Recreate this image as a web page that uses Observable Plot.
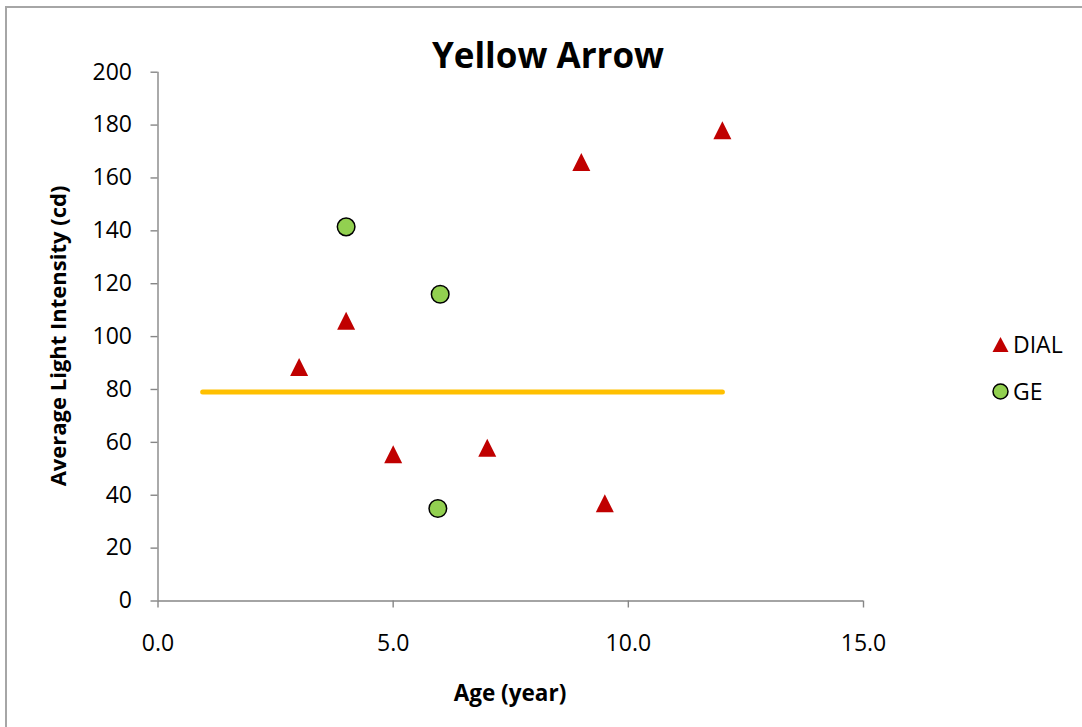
<!DOCTYPE html>
<html>
<head>
<meta charset="utf-8">
<script src="https://cdn.jsdelivr.net/npm/d3@7"></script>
<script src="https://cdn.jsdelivr.net/npm/@observablehq/plot@0.6"></script>
<style>
  html, body { margin: 0; padding: 0; background: #fff; overflow: hidden; }
  #wrap { position: relative; width: 1082px; height: 727px; font-family: "Open Sans", sans-serif; }
  #border { position: absolute; left: 5px; top: 6px; width: 1100px; height: 760px; border: 2px solid #a6a6a6; box-sizing: border-box; }
  #chart { position: absolute; left: 0; top: 0; }
  .title { position: absolute; left: 0; width: 1096px; top: 37px; text-align: center; font-weight: 700; font-size: 35px; line-height: 1; color: #000; }
  .xlab { position: absolute; left: 410px; width: 200px; top: 682px; text-align: center; font-weight: 700; font-size: 22.5px; line-height: 1; }
  .ylab { position: absolute; left: 57px; top: 336px; transform: translate(-50%, -50%) rotate(-90deg); white-space: nowrap; font-weight: 700; font-size: 22px; line-height: 1; }
  .leg { position: absolute; left: 992px; font-size: 23px; line-height: 1; display: flex; align-items: center; }
  .leg svg { margin-right: 4px; }
</style>
</head>
<body>
<div id="wrap">
  <div id="border"></div>
  <div id="chart"></div>
</div>
<script>
// ---- data ----
const dialAge = [3, 4, 5, 7, 9, 9.5, 12];
const dialIntensity = [88.5, 106, 55.5, 58, 166, 37, 178];
const geAge = [4, 6, 5.95];
const geIntensity = [141.5, 116, 35];
const meanAge = [0.95, 12];
const meanIntensity = [79, 79];
const xTicks = [0, 5, 10, 15];
const yTicks = [0, 20, 40, 60, 80, 100, 120, 140, 160, 180, 200];
const seriesNames = ["DIAL", "GE"];
const titleText = "Yellow Arrow";
const xTitle = "Age (year)";
const yTitle = "Average Light Intensity (cd)";

const dial = dialAge.map((a, i) => ({age: a, v: dialIntensity[i]}));
const ge = geAge.map((a, i) => ({age: a, v: geIntensity[i]}));
const mean = meanAge.map((a, i) => ({age: a, v: meanIntensity[i]}));

// isosceles triangle (Excel-style), centered on its bounding box
const tri = {
  draw(ctx, size) {
    const s = Math.sqrt(size / Math.PI);
    ctx.moveTo(0, -s);
    ctx.lineTo(s, s);
    ctx.lineTo(-s, s);
    ctx.closePath();
  }
};

const axisGrey = "#868686";
const plot = Plot.plot({
  width: 1082,
  height: 727,
  marginLeft: 157.5,
  marginRight: 219,
  marginTop: 71.7,
  marginBottom: 126.5,
  style: {fontFamily: "'Open Sans', sans-serif", fontSize: "23px", color: "#000", background: "transparent"},
  x: {domain: [0, 15]},
  y: {domain: [0, 200]},
  marks: [
    Plot.ruleX([0], {stroke: axisGrey, strokeWidth: 1.4}),
    Plot.ruleY([0], {stroke: axisGrey, strokeWidth: 1.4}),
    Plot.axisX(xTicks, {ticks: xTicks, tickFormat: d3.format(".1f"), tickSize: 7, tickPadding: 27, stroke: axisGrey, fill: "#000", strokeWidth: 1.4, label: null, fontSize: 23}),
    Plot.axisY(yTicks, {ticks: yTicks, tickSize: 7, tickPadding: 19, stroke: axisGrey, fill: "#000", strokeWidth: 1.4, label: null, fontSize: 23}),
    Plot.line(mean, {x: "age", y: "v", stroke: "#FFC000", strokeWidth: 5, strokeLinecap: "round"}),
    Plot.dot(dial, {x: "age", y: "v", symbol: tri, r: 9, fill: "#C00000", stroke: null}),
    Plot.dot(ge, {x: "age", y: "v", symbol: "circle", r: 8.8, fill: "#92D050", stroke: "#000", strokeWidth: 1.5})
  ]
});
document.getElementById("chart").appendChild(plot);

const wrap = document.getElementById("wrap");
function addDiv(cls, text) {
  const d = document.createElement("div");
  d.className = cls;
  d.textContent = text;
  wrap.appendChild(d);
  return d;
}
addDiv("title", titleText);
addDiv("xlab", xTitle);
addDiv("ylab", yTitle);

// legend
const legShapes = [
  '<svg width="17" height="17"><path d="M8.5,1 L16.5,16 L0.5,16 Z" fill="#C00000"/></svg>',
  '<svg width="17" height="17"><circle cx="8.5" cy="8.5" r="7.5" fill="#92D050" stroke="#000" stroke-width="1.5"/></svg>'
];
const legTops = ["333px", "380px"];
seriesNames.forEach((name, i) => {
  const d = document.createElement("div");
  d.className = "leg";
  d.style.top = legTops[i];
  d.innerHTML = legShapes[i] + "<span>" + name + "</span>";
  wrap.appendChild(d);
});
</script>
</body>
</html>
